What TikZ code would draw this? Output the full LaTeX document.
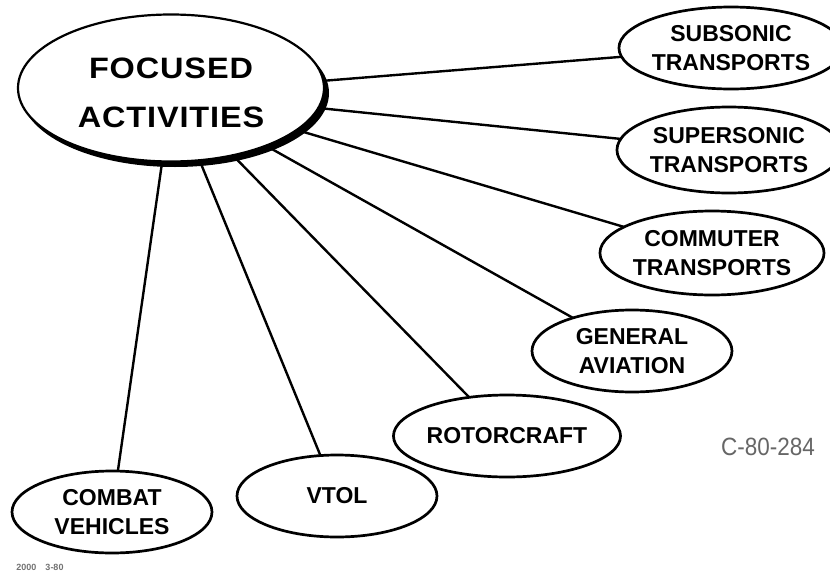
\documentclass[tikz,border=0pt]{standalone}
\usepackage{fontspec}
\setmainfont{Liberation Sans}
\newfontfamily\widebold[FakeStretch=1.1,LetterSpace=3]{Liberation Sans Bold}
\usetikzlibrary{shapes.geometric,backgrounds}
\tikzset{
  leaf/.style={ellipse, draw, line width=2.7pt, fill=white, minimum width=200pt, minimum height=82pt,
    inner sep=0pt, align=center, font=\bfseries\fontsize{23}{28.5}\selectfont},
  conn/.style={line width=2.4pt},
}
\begin{document}
\begin{tikzpicture}[x=1pt,y=-1pt]
\useasboundingbox (0,0) rectangle (830,573);
% main node with shadow
\node[ellipse, fill=black, inner sep=0pt, minimum width=308pt, minimum height=148pt] (shadow) at (175,93) {};
\node[ellipse, draw, line width=2.2pt, fill=white, inner sep=0pt, minimum width=306pt, minimum height=147pt] (main) at (171,88) {};
\node[align=center, inner sep=0pt, font=\widebold\fontsize{29.5}{49}\selectfont] (maintext) at (171,93) {FOCUSED\\ACTIVITIES};
\coordinate (hub) at (172,93);
% leaves
\node[leaf, minimum width=196pt] (sub) at (731,48) {SUBSONIC\\TRANSPORTS};
\node[leaf, minimum height=86pt] (sup) at (729,150) {SUPERSONIC\\TRANSPORTS};
\node[leaf, minimum width=202pt, minimum height=84pt] (com) at (712,253) {COMMUTER\\TRANSPORTS};
\node[leaf] (gen) at (632,351) {GENERAL\\AVIATION};
\node[leaf] (rot) at (507,436) {ROTORCRAFT};
\node[leaf] (vtol) at (337,496) {VTOL};
\node[leaf] (cmb) at (112,512) {COMBAT\\VEHICLES};
% connectors
\begin{scope}[on background layer]
\foreach \n in {sub,sup,com,gen,rot,vtol,cmb}
  \draw[conn] (hub) -- (\n.center);
\end{scope}
% labels
\node[text=black!60, font=\fontsize{25}{25}\selectfont, xscale=0.9] (code) at (768,447) {C-80-284};
\node[text=black!55, font=\bfseries\fontsize{9}{9}\selectfont] (stamp) at (40,567) {2000\quad 3-80};
\end{tikzpicture}
\end{document}
